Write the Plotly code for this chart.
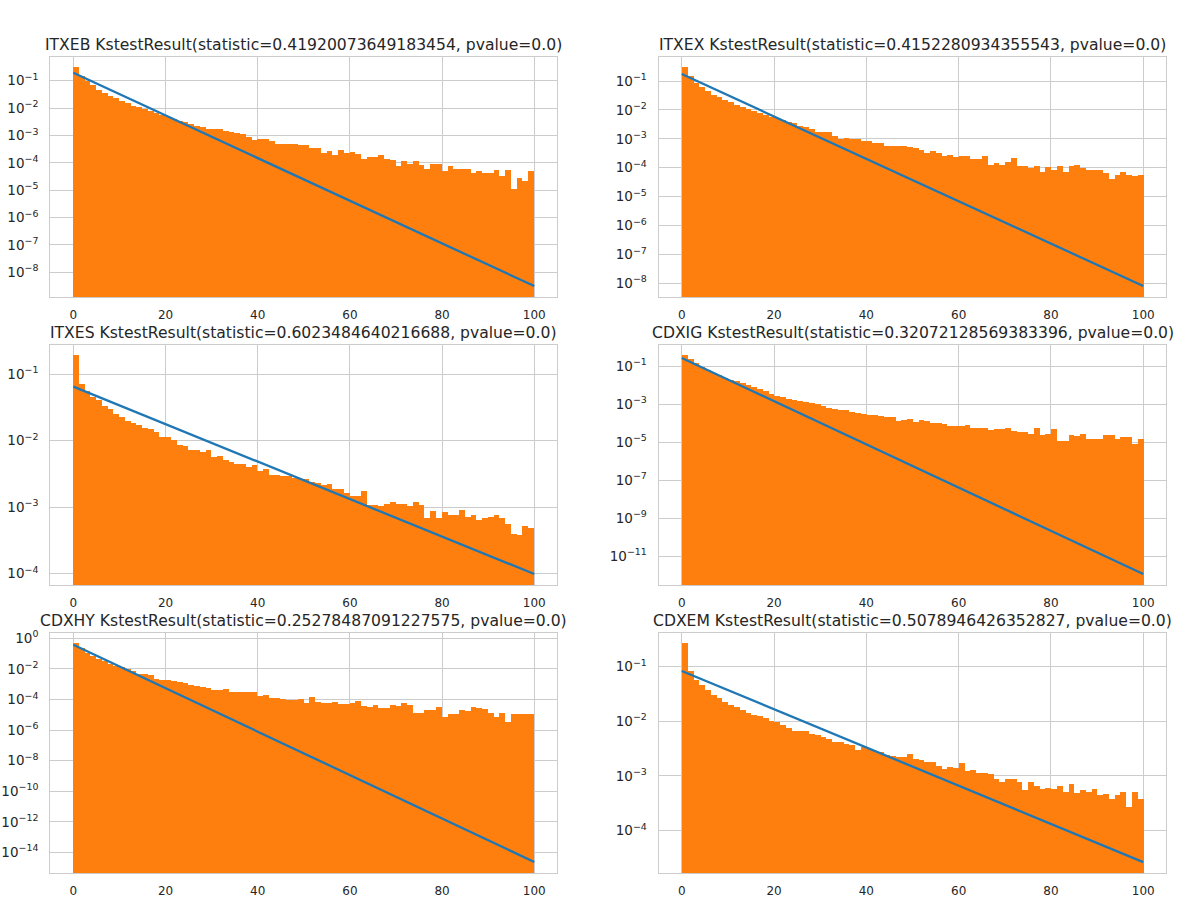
import numpy as np
import plotly.graph_objects as go

# ---------------- data ----------------
# histogram bins: 80 bins of equal width between 0 and 100
bin_edges = np.linspace(0, 100, 81)

# bar heights (density) given as powers of ten, one value per bin
itxeb_log10 = [-0.525, -0.854, -1.037, -1.183, -1.341, -1.451, -1.560, -1.646, -1.743, -1.828,
               -1.938, -1.962, -2.060, -2.121, -2.194, -2.267, -2.328, -2.413, -2.474, -2.510,
               -2.596, -2.669, -2.705, -2.766, -2.790, -2.790, -2.839, -2.888, -2.937, -2.973,
               -3.058, -3.168, -3.156, -3.132, -3.205, -3.314, -3.314, -3.314, -3.330, -3.360,
               -3.375, -3.485, -3.485, -3.643, -3.570, -3.728, -3.533, -3.643, -3.607, -3.680,
               -3.862, -3.789, -3.814, -3.728, -3.862, -3.899, -4.118, -3.935, -4.045, -3.935,
               -4.082, -4.228, -4.045, -4.045, -4.301, -4.118, -4.228, -4.252, -4.228, -4.374,
               -4.301, -4.374, -4.374, -4.264, -4.484, -4.264, -4.959, -4.557, -4.666, -4.301]

itxex_log10 = [-0.539, -0.850, -1.081, -1.231, -1.369, -1.484, -1.577, -1.657, -1.750, -1.830,
               -1.923, -1.980, -2.061, -2.119, -2.200, -2.257, -2.292, -2.361, -2.442, -2.476,
               -2.557, -2.603, -2.661, -2.765, -2.765, -2.765, -2.903, -3.007, -2.972, -3.030,
               -3.030, -3.076, -3.076, -3.145, -3.145, -3.249, -3.249, -3.249, -3.249, -3.295,
               -3.330, -3.399, -3.503, -3.434, -3.503, -3.595, -3.572, -3.630, -3.607, -3.607,
               -3.699, -3.699, -3.595, -3.918, -3.849, -3.907, -3.814, -3.664, -3.941, -3.941,
               -4.010, -3.941, -4.172, -3.976, -4.103, -3.941, -4.172, -3.941, -3.907, -4.033,
               -4.080, -4.080, -4.080, -4.183, -4.391, -4.253, -4.149, -4.253, -4.287, -4.253]

itxes_log10 = [-0.719, -1.146, -1.261, -1.351, -1.396, -1.477, -1.532, -1.597, -1.642, -1.702,
               -1.738, -1.773, -1.808, -1.828, -1.873, -1.943, -1.943, -1.988, -2.064, -2.079,
               -2.139, -2.139, -2.179, -2.149, -2.254, -2.239, -2.290, -2.330, -2.350, -2.350,
               -2.405, -2.375, -2.465, -2.425, -2.525, -2.525, -2.540, -2.540, -2.563, -2.580,
               -2.581, -2.626, -2.641, -2.666, -2.651, -2.731, -2.731, -2.791, -2.831, -2.831,
               -2.761, -2.972, -2.972, -2.982, -2.952, -2.927, -2.952, -2.952, -2.982, -2.927,
               -2.972, -3.163, -3.062, -3.163, -3.077, -3.117, -3.117, -3.047, -3.148, -3.117,
               -3.193, -3.163, -3.153, -3.122, -3.168, -3.253, -3.403, -3.418, -3.288, -3.313]

cdxig_log10 = [-0.439, -0.632, -0.842, -1.070, -1.228, -1.368, -1.491, -1.632, -1.737, -1.807,
               -1.877, -2.000, -2.088, -2.228, -2.333, -2.491, -2.561, -2.649, -2.737, -2.772,
               -2.860, -2.877, -2.947, -3.000, -3.123, -3.211, -3.263, -3.298, -3.333, -3.439,
               -3.491, -3.526, -3.561, -3.596, -3.614, -3.702, -3.667, -3.877, -3.825, -3.789,
               -3.965, -3.825, -3.895, -3.982, -4.000, -4.053, -4.175, -4.140, -4.140, -4.088,
               -4.246, -4.281, -4.281, -4.386, -4.333, -4.298, -4.246, -4.404, -4.491, -4.456,
               -4.561, -4.281, -4.614, -4.561, -4.298, -4.930, -4.930, -4.614, -4.702, -4.561,
               -4.825, -4.825, -4.825, -4.614, -4.614, -4.825, -4.719, -4.719, -5.088, -4.825]

cdxhy_log10 = [-0.349, -0.654, -0.981, -1.199, -1.374, -1.526, -1.679, -1.810, -1.897, -2.006,
               -2.181, -2.333, -2.377, -2.442, -2.682, -2.747, -2.747, -2.813, -2.878, -2.966,
               -3.075, -3.162, -3.227, -3.271, -3.380, -3.380, -3.336, -3.554, -3.554, -3.554,
               -3.554, -3.554, -3.772, -3.707, -3.925, -3.925, -3.990, -4.056, -4.080, -3.990,
               -4.230, -3.838, -4.165, -4.230, -4.230, -4.165, -4.296, -4.296, -4.230, -4.099,
               -4.427, -4.492, -4.361, -4.557, -4.557, -4.361, -4.427, -4.230, -4.361, -4.884,
               -4.884, -4.688, -4.688, -4.492, -5.146, -4.950, -4.950, -4.688, -4.754, -4.492,
               -4.557, -4.623, -4.884, -5.146, -4.884, -5.473, -4.950, -4.950, -4.950, -4.950]

cdxem_log10 = [-0.579, -1.079, -1.244, -1.342, -1.428, -1.519, -1.574, -1.648, -1.715, -1.751,
               -1.806, -1.849, -1.886, -1.910, -1.941, -1.995, -2.020, -2.069, -2.124, -2.179,
               -2.179, -2.179, -2.234, -2.252, -2.289, -2.326, -2.381, -2.381, -2.417, -2.436,
               -2.527, -2.484, -2.509, -2.558, -2.576, -2.631, -2.637, -2.668, -2.655, -2.600,
               -2.692, -2.710, -2.747, -2.747, -2.820, -2.875, -2.839, -2.857, -2.765, -2.912,
               -2.894, -2.949, -2.949, -2.967, -3.059, -3.114, -3.059, -3.059, -3.114, -3.260,
               -3.114, -3.187, -3.242, -3.224, -3.242, -3.187, -3.297, -3.150, -3.315, -3.260,
               -3.297, -3.242, -3.352, -3.334, -3.425, -3.352, -3.297, -3.572, -3.297, -3.425]

# fitted exponential line: x end points and log10 of the fitted density there
fit_x = [0, 100]
itxeb_fit_log10 = [-0.71, -8.50]
itxex_fit_log10 = [-0.76, -8.09]
itxes_fit_log10 = [-1.186, -4.005]
cdxig_fit_log10 = [-0.563, -11.93]
cdxhy_fit_log10 = [-0.42, -14.63]
cdxem_fit_log10 = [-1.079, -4.58]

titles = [
    "ITXEB KstestResult(statistic=0.41920073649183454, pvalue=0.0)",
    "ITXEX KstestResult(statistic=0.4152280934355543, pvalue=0.0)",
    "ITXES KstestResult(statistic=0.6023484640216688, pvalue=0.0)",
    "CDXIG KstestResult(statistic=0.32072128569383396, pvalue=0.0)",
    "CDXHY KstestResult(statistic=0.25278487091227575, pvalue=0.0)",
    "CDXEM KstestResult(statistic=0.5078946426352827, pvalue=0.0)",
]

x_ticks = [0, 20, 40, 60, 80, 100]
y_tick_exponents = [
    [-1, -2, -3, -4, -5, -6, -7, -8],
    [-1, -2, -3, -4, -5, -6, -7, -8],
    [-1, -2, -3, -4],
    [-1, -3, -5, -7, -9, -11],
    [0, -2, -4, -6, -8, -10, -12, -14],
    [-1, -2, -3, -4],
]
y_ranges = [
    [-8.90, -0.145],
    [-8.47, -0.18],
    [-4.17, -0.564],
    [-12.51, 0.105],
    [-15.35, 0.33],
    [-4.78, -0.387],
]

series = [itxeb_log10, itxex_log10, itxes_log10, cdxig_log10, cdxhy_log10, cdxem_log10]
fits = [itxeb_fit_log10, itxex_fit_log10, itxes_fit_log10,
        cdxig_fit_log10, cdxhy_fit_log10, cdxem_fit_log10]

# ---------------- layout geometry (pixels) ----------------
W, H = 1200, 921
col_px = [(50.3, 557.3), (658.7, 1166.3)]
row_px = [(57.3, 297.0), (345.3, 585.0), (633.3, 873.0)]

ORANGE = "#ff7f0e"
BLUE = "#1f77b4"
GRID = "#cccccc"
TEXT = "#262626"
FONT = "DejaVu Sans"

centers = (bin_edges[:-1] + bin_edges[1:]) / 2
widths = np.diff(bin_edges)

fig = go.Figure()
layout = dict(
    width=W, height=H,
    margin=dict(l=0, r=0, t=0, b=0),
    paper_bgcolor="white", plot_bgcolor="white",
    showlegend=False,
    font=dict(family=FONT, color=TEXT, size=12),
    bargap=0,
)
annotations = []

def sup(e):
    s = str(e).replace("-", "\u2212")
    return "10<sup>" + s + "</sup>"

for k in range(6):
    r, c = divmod(k, 2)
    n = k + 1
    xa = "x" if n == 1 else f"x{n}"
    ya = "y" if n == 1 else f"y{n}"
    xkey = "xaxis" if n == 1 else f"xaxis{n}"
    ykey = "yaxis" if n == 1 else f"yaxis{n}"

    vals = 10 ** np.array(series[k])
    fig.add_trace(go.Bar(x=centers, y=vals, width=widths, marker=dict(color=ORANGE, line=dict(width=0)),
                         xaxis=xa, yaxis=ya, hoverinfo="skip"))
    fig.add_trace(go.Scatter(x=fit_x, y=10 ** np.array(fits[k]), mode="lines",
                             line=dict(color=BLUE, width=2.3), xaxis=xa, yaxis=ya, hoverinfo="skip"))

    x0, x1 = col_px[c]
    y0, y1 = row_px[r]
    xdom = [x0 / W, x1 / W]
    ydom = [1 - y1 / H, 1 - y0 / H]

    layout[xkey] = dict(
        domain=xdom, anchor=ya, range=[-5, 105], tickvals=x_ticks,
        showgrid=True, gridcolor=GRID, gridwidth=1.3, zeroline=False,
        showline=True, linecolor=GRID, linewidth=1.3, mirror=True,
        ticks="", tickfont=dict(size=12, color=TEXT, family=FONT),
        ticklabelstandoff=6, automargin=False,
    )
    exps = y_tick_exponents[k]
    layout[ykey] = dict(
        domain=ydom, anchor=xa, type="log", range=y_ranges[k],
        tickvals=[10.0 ** e for e in exps], ticktext=[sup(e) for e in exps],
        showgrid=True, gridcolor=GRID, gridwidth=1.3, zeroline=False,
        showline=True, linecolor=GRID, linewidth=1.3, mirror=True,
        ticks="", tickfont=dict(size=13.5, color=TEXT, family=FONT),
        ticklabelstandoff=8, automargin=False,
    )
    annotations.append(dict(
        text=titles[k], xref="paper", yref="paper",
        x=(xdom[0] + xdom[1]) / 2, y=ydom[1], xanchor="center", yanchor="bottom",
        yshift=1, showarrow=False, font=dict(size=15.6, color=TEXT, family=FONT),
    ))

layout["annotations"] = annotations
fig.update_layout(**layout)
fig.write_html("out.html")
